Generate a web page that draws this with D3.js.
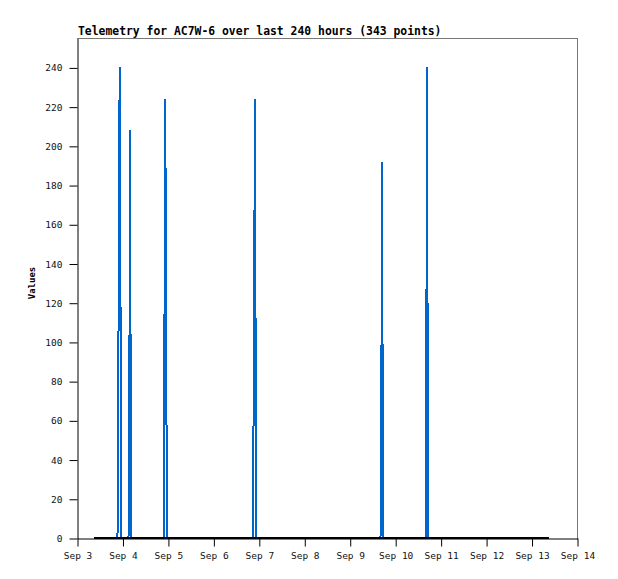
<!DOCTYPE html>
<html><head><meta charset="utf-8">
<script src="https://cdn.jsdelivr.net/npm/d3@7"></script>
<style>
html,body{margin:0;padding:0;background:#fff;}
svg{display:block;}
</style></head>
<body>
<svg id="chart" width="618" height="579"></svg>
<script>
// ---- data ----
const titleText = "Telemetry for AC7W-6 over last 240 hours (343 points)";
const yLabel = "Values";
const xDomain = ["2024-09-03T00:00", "2024-09-14T00:00"];
const yDomain = [0, 255];
const yTicks = [0, 20, 40, 60, 80, 100, 120, 140, 160, 180, 200, 220, 240];
const xTickDays = ["2024-09-03","2024-09-04","2024-09-05","2024-09-06","2024-09-07","2024-09-08","2024-09-09","2024-09-10","2024-09-11","2024-09-12","2024-09-13","2024-09-14"];
const times = [
  "2024-09-03T09:05",
  "2024-09-03T21:23","2024-09-03T21:55","2024-09-03T22:27","2024-09-03T22:36","2024-09-03T22:58","2024-09-03T23:30",
  "2024-09-04T03:12","2024-09-04T03:44","2024-09-04T03:59","2024-09-04T04:15","2024-09-04T04:47",
  "2024-09-04T21:41","2024-09-04T22:12","2024-09-04T22:34","2024-09-04T22:50","2024-09-04T23:16","2024-09-04T23:47",
  "2024-09-06T20:40","2024-09-06T21:12","2024-09-06T21:44","2024-09-06T21:50","2024-09-06T22:15","2024-09-06T22:47",
  "2024-09-09T16:15","2024-09-09T16:47","2024-09-09T17:03","2024-09-09T17:19","2024-09-09T17:50",
  "2024-09-10T16:01","2024-09-10T16:32","2024-09-10T16:48","2024-09-10T17:04","2024-09-10T17:36",
  "2024-09-13T09:05"
];
const values = [
  0,
  0,104,224,240,120,0,
  0,104,208,104,0,
  0,112,224,168,56,0,
  0,56,168,224,112,0,
  0,96,192,96,0,
  0,120,240,120,0,
  0
];

// ---- chart ----
const parse = d3.timeParse("%Y-%m-%dT%H:%M");
const parseDay = d3.timeParse("%Y-%m-%d");
const data = times.map((t, i) => ({t: parse(t), v: values[i]}));

const svg = d3.select("#chart");
const L = 77, R = 577, T = 38, B = 538;
const x = d3.scaleTime().domain(xDomain.map(parse)).range([L, R]);
const y = d3.scaleLinear().domain(yDomain).range([B, T]);

const mono = "'DejaVu Sans Mono', 'Liberation Mono', monospace";

// frame: top & right grey
svg.append("line").attr("x1", L).attr("x2", R + 0.5).attr("y1", T + 0.5).attr("y2", T + 0.5)
  .attr("stroke", "#777").attr("stroke-width", 1);
svg.append("line").attr("x1", R + 0.5).attr("x2", R + 0.5).attr("y1", T).attr("y2", B + 1)
  .attr("stroke", "#777").attr("stroke-width", 1);

// data line
const line = d3.line().x(d => x(d.t)).y(d => y(d.v));
svg.append("path").datum(data).attr("d", line)
  .attr("fill", "none").attr("stroke", "#0066cc").attr("stroke-width", 2)
  .attr("stroke-linejoin", "bevel").attr("shape-rendering", "crispEdges");

// zero baseline over data extent (black, thick)
const ext = d3.extent(data, d => d.t);
svg.append("line").attr("x1", x(ext[0])).attr("x2", x(ext[1]))
  .attr("y1", y(0)).attr("y2", y(0)).attr("stroke", "#000").attr("stroke-width", 2)
  .attr("shape-rendering", "crispEdges");

// axes
const xAxis = d3.axisBottom(x).tickValues(xTickDays.map(parseDay))
  .tickFormat(d3.timeFormat("Sep %-d")).tickSize(8).tickPadding(6).tickSizeOuter(0);
const gx = svg.append("g").attr("transform", `translate(0.5,${B + 0.5})`).call(xAxis);
gx.select(".domain").attr("stroke", "#000");
gx.selectAll(".tick line").attr("stroke", "#000");
gx.selectAll("text").attr("font-family", mono).attr("font-size", "9.5px").attr("fill", "#111");

const yAxis = d3.axisLeft(y).tickValues(yTicks).tickSize(8).tickPadding(7).tickSizeOuter(0);
const gy = svg.append("g").attr("transform", `translate(${L + 0.5},0.5)`).call(yAxis);
gy.select(".domain").attr("stroke", "#000");
gy.selectAll(".tick line").attr("stroke", "#000");
gy.selectAll("text").attr("font-family", mono).attr("font-size", "9.5px").attr("fill", "#111");

// title
svg.append("text").attr("x", L + 1).attr("y", 35).text(titleText)
  .attr("font-family", mono).attr("font-weight", "bold").attr("font-size", "11.4px").attr("fill", "#000");

// y label
svg.append("text").attr("transform", `translate(35,${(T + B) / 2 - 5}) rotate(-90)`)
  .attr("text-anchor", "middle").text(yLabel)
  .attr("font-family", mono).attr("font-weight", "bold").attr("font-size", "9px").attr("fill", "#000");
</script>
</body></html>
